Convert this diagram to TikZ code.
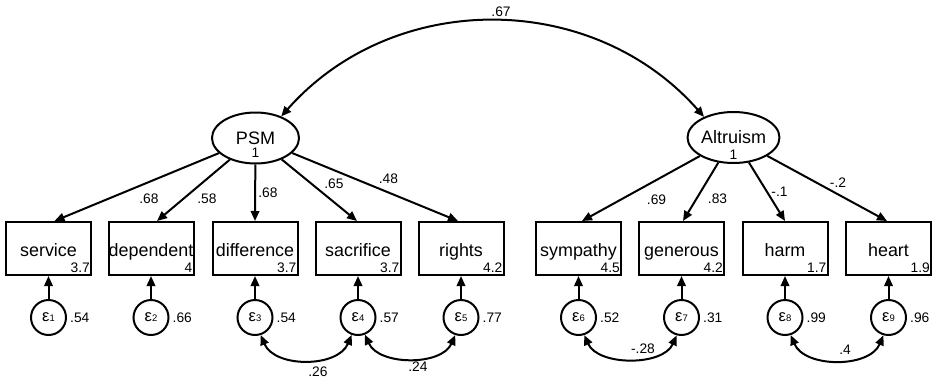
\documentclass[tikz,border=0pt]{standalone}
\usepackage{fontspec}
\setmainfont{Liberation Sans}
\usetikzlibrary{arrows.meta,shapes.geometric}

\tikzset{
  semtip/.tip={Triangle[length=10pt,width=8.5pt]},
  latent/.style={draw, ellipse, line width=2pt, minimum width=87pt, minimum height=51pt,
    inner sep=0pt, font=\fontsize{18}{18}\selectfont},
  obs/.style={draw, rectangle, line width=2pt, minimum width=85pt, minimum height=53pt,
    inner sep=0pt, text height=15pt, text depth=0pt, font=\fontsize{17.9}{17.9}\selectfont},
  err/.style={draw, circle, line width=2pt, minimum size=35pt, inner sep=0pt},
  coef/.style={inner sep=0pt, font=\fontsize{13.8}{13.8}\selectfont},
  intercept/.style={coef, anchor=base east},
  variance/.style={coef, anchor=west},
  pathline/.style={line width=2pt, -{semtip}},
  covline/.style={line width=2pt, {semtip}-{semtip}},
}
\newcommand{\errlabel}[1]{{\fontsize{16.5}{16.5}\selectfont ε}{\fontsize{9.5}{9.5}\selectfont #1}}

\begin{document}
\begin{tikzpicture}[x=1pt,y=-1pt]
  \useasboundingbox (0,0) rectangle (934,383);

  % latent variables
  \node[latent] (psm) at (255.5,138) {PSM};
  \node[coef] (psmv) at (255.5,153) {1};
  \node[latent] (alt) at (733.5,137.5) {\raisebox{-1pt}{Altruism}};
  \node[coef] (altv) at (733.5,155) {1};

  % observed indicators
  \node[obs] (b1) at (48.5,248.5) {service};
  \node[obs] (b2) at (151,248.5)  {dependent};
  \node[obs] (b3) at (255,248.5)  {difference};
  \node[obs] (b4) at (358,248.5)  {sacrifice};
  \node[obs] (b5) at (461,248.5)  {rights};
  \node[obs] (b6) at (578.5,248.5) {sympathy};
  \node[obs] (b7) at (681.5,248.5) {generous};
  \node[obs] (b8) at (785,248.5)  {harm};
  \node[obs] (b9) at (888.5,248.5) {heart};

  % intercepts
  \node[intercept] (i1) at ([xshift=-2pt,yshift=4pt]b1.south east) {3.7};
  \node[intercept] (i2) at ([xshift=-2pt,yshift=4pt]b2.south east) {4};
  \node[intercept] (i3) at ([xshift=-2pt,yshift=4pt]b3.south east) {3.7};
  \node[intercept] (i4) at ([xshift=-2pt,yshift=4pt]b4.south east) {3.7};
  \node[intercept] (i5) at ([xshift=-2pt,yshift=4pt]b5.south east) {4.2};
  \node[intercept] (i6) at ([xshift=-2pt,yshift=4pt]b6.south east) {4.5};
  \node[intercept] (i7) at ([xshift=-2pt,yshift=4pt]b7.south east) {4.2};
  \node[intercept] (i8) at ([xshift=-2pt,yshift=4pt]b8.south east) {1.7};
  \node[intercept] (i9) at ([xshift=-2pt,yshift=4pt]b9.south east) {1.9};

  % error terms
  \node[err] (e1) at (48.5,317.5)  {\errlabel{1}};
  \node[err] (e2) at (151,317.5)   {\errlabel{2}};
  \node[err] (e3) at (255,317.5)   {\errlabel{3}};
  \node[err] (e4) at (358,317.5)   {\errlabel{4}};
  \node[err] (e5) at (461,317.5)   {\errlabel{5}};
  \node[err] (e6) at (578.5,317.5) {\errlabel{6}};
  \node[err] (e7) at (681.5,317.5) {\errlabel{7}};
  \node[err] (e8) at (785,317.5)   {\errlabel{8}};
  \node[err] (e9) at (888.5,317.5) {\errlabel{9}};

  % error variances
  \node[variance] (v1) at ([xshift=3pt]e1.east) {.54};
  \node[variance] (v2) at ([xshift=3pt]e2.east) {.66};
  \node[variance] (v3) at ([xshift=3pt]e3.east) {.54};
  \node[variance] (v4) at ([xshift=3pt]e4.east) {.57};
  \node[variance] (v5) at ([xshift=3pt]e5.east) {.77};
  \node[variance] (v6) at ([xshift=3pt]e6.east) {.52};
  \node[variance] (v7) at ([xshift=3pt]e7.east) {.31};
  \node[variance] (v8) at ([xshift=3pt]e8.east) {.99};
  \node[variance] (v9) at ([xshift=3pt]e9.east) {.96};

  % factor loadings
  \draw[pathline] (psm) -- ([xshift=6pt]b1.north);
  \draw[pathline] (psm) -- ([xshift=6pt]b2.north);
  \draw[pathline] (psm) -- (b3.north);
  \draw[pathline] (psm) -- ([xshift=-1pt]b4.north);
  \draw[pathline] (psm) -- ([xshift=-3pt]b5.north);
  \draw[pathline] (alt) -- ([xshift=3.5pt]b6.north);
  \draw[pathline] (alt) -- ([xshift=1.5pt]b7.north);
  \draw[pathline] (alt) -- (b8.north);
  \draw[pathline] (alt) -- ([xshift=-1.5pt]b9.north);

  \node[coef] (l1) at (149,199) {.68};
  \node[coef] (l2) at (207,199) {.58};
  \node[coef] (l3) at (268,193) {.68};
  \node[coef] (l4) at (334,183.5) {.65};
  \node[coef] (l5) at (388.5,179) {.48};
  \node[coef] (l6) at (656.5,200) {.69};
  \node[coef] (l7) at (717.5,199) {.83};
  \node[coef] (l8) at (779.5,192) {-.1};
  \node[coef] (l9) at (838,183) {-.2};

  % error paths
  \foreach \k in {1,...,9} {
    \draw[pathline] (e\k.north) -- (b\k.south);
  }

  % covariances
  \draw[covline] (psm.40) .. controls +(112,-127) and +(-112,-127) .. (alt.145);
  \node[coef] (c0) at (501,12) {.67};

  \draw[covline] (e3.-72) .. controls +(14,33) and +(-14,33) .. (e4.-110);
  \node[coef] (c1) at (318,372) {.26};
  \draw[covline] (e4.-68) .. controls +(14,31) and +(-14,31) .. (e5.-108);
  \node[coef] (c2) at (418,367) {.24};
  \draw[covline] (e6.-72) .. controls +(14,31) and +(-14,31) .. (e7.-105);
  \node[coef] (c3) at (643,349) {-.28};
  \draw[covline] (e8.-72) .. controls +(14,33) and +(-14,33) .. (e9.-106);
  \node[coef] (c4) at (845,350) {.4};
\end{tikzpicture}
\end{document}
